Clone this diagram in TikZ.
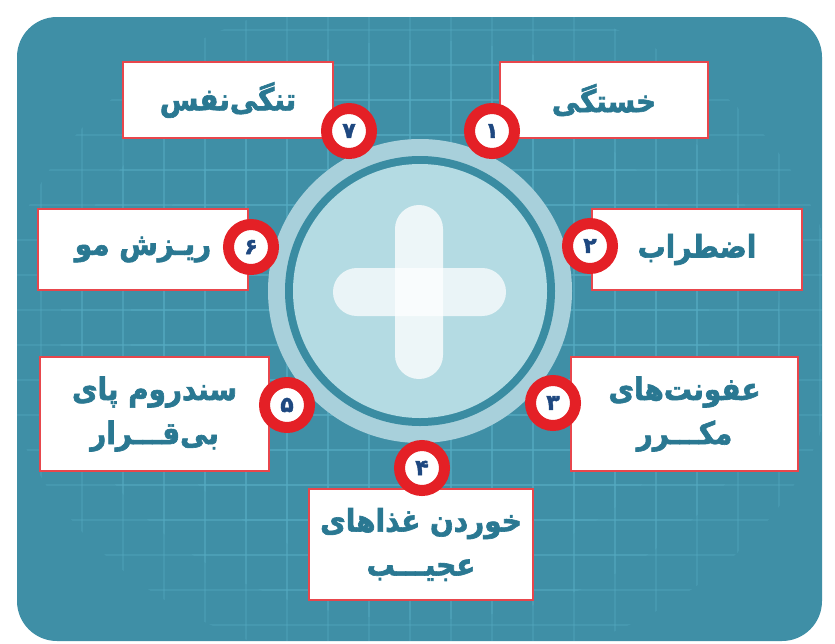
\documentclass[tikz,border=0pt]{standalone}
\usepackage{fontspec}
\newfontfamily\fa[Script=Arabic,FakeStretch=0.9,BoldFeatures={FakeBold=2}]{DejaVu Sans}
\newfontfamily\fadig[Script=Arabic,BoldFeatures={FakeBold=2}]{DejaVu Sans}
\TeXXeTstate=1
\definecolor{bg}{RGB}{63,143,166}
\definecolor{gridc}{RGB}{86,172,196}
\definecolor{ringlight}{RGB}{168,208,219}
\definecolor{ringdark}{RGB}{58,140,162}
\definecolor{disk}{RGB}{180,219,227}
\definecolor{boxred}{RGB}{232,70,76}
\definecolor{badgered}{RGB}{228,32,38}
\definecolor{txtc}{RGB}{42,120,146}
\definecolor{navy}{RGB}{30,72,128}
\tikzset{
  box/.style={draw=boxred, line width=1.2pt, fill=white, inner sep=0pt,
    text=txtc, align=center, font=\fa\bfseries\fontsize{31}{44}\selectfont},
  badge/.style={circle, fill=white, draw=badgered, line width=11pt,
    minimum size=45pt, inner sep=0pt, text=navy,
    font=\fadig\bfseries\fontsize{22}{22}\selectfont},
  gridline/.style={gridc, line width=2pt, opacity=0.33}
}
\newcommand\gridlines{%
  \foreach \gx in {41,82,...,820} {\draw[gridline] (\gx,17) -- (\gx,641);}
  \foreach \gy in {30,65,...,640} {\draw[gridline] (17,\gy) -- (822,\gy);}
}
\begin{document}
\begin{tikzpicture}[x=1pt,y=-1pt]
\useasboundingbox (0,0) rectangle (835,643);
\fill[white] (0,0) rectangle (835,643);
\fill[bg, rounded corners=40pt] (17,17) rectangle (822,641);
% fading grid
\begin{scope}
  \clip (420,330) ellipse [x radius=420pt, y radius=340pt];
  \gridlines
\end{scope}
\begin{scope}
  \clip (420,330) ellipse [x radius=360pt, y radius=290pt];
  \gridlines
\end{scope}
\begin{scope}
  \clip (420,330) ellipse [x radius=290pt, y radius=240pt];
  \gridlines
\end{scope}
% central circle
\fill[ringlight] (420,291) circle [radius=152pt];
\fill[ringdark] (420,291) circle [radius=135pt];
\fill[disk] (420,291) circle [radius=127pt];
% plus sign
\fill[white, opacity=0.72, rounded corners=23.9pt] (333,268) rectangle (506,316);
\fill[white, opacity=0.76, rounded corners=23.9pt] (395,205) rectangle (443,379);
% boxes
\node[box, minimum width=208pt, minimum height=76pt] (b1) at (604,100) {\beginR خستگی\endR};
\node[box, minimum width=210pt, minimum height=76pt] (b7) at (228,100) {\beginR تنگی‌نفس\endR};
\node[box, minimum width=210pt, minimum height=81pt] (b2) at (697,249.5) {\beginR اضطراب\endR};
\node[box, minimum width=210pt, minimum height=81pt] (b6) at (143,249.5) {\beginR ریـزش مو\endR};
\node[box, minimum width=227pt, minimum height=114pt] (b3) at (684.5,414) {\beginR عفونت‌های\endR\\\beginR مکـــرر\endR};
\node[box, minimum width=229pt, minimum height=114pt] (b5) at (154.5,414) {\beginR سندروم پای\endR\\\beginR بی‌قـــرار\endR};
\node[box, minimum width=224pt, minimum height=111pt] (b4) at (421,544.5) {\beginR خوردن غذاهای\endR\\\beginR عجیـــب\endR};
% badges
\node[badge] (n1) at (492,131) {۱};
\node[badge] (n2) at (590,246) {۲};
\node[badge] (n3) at (553,403) {۳};
\node[badge] (n4) at (422,468) {۴};
\node[badge] (n5) at (287,405) {۵};
\node[badge] (n6) at (251,247) {۶};
\node[badge] (n7) at (349,131) {۷};
\end{tikzpicture}
\end{document}
